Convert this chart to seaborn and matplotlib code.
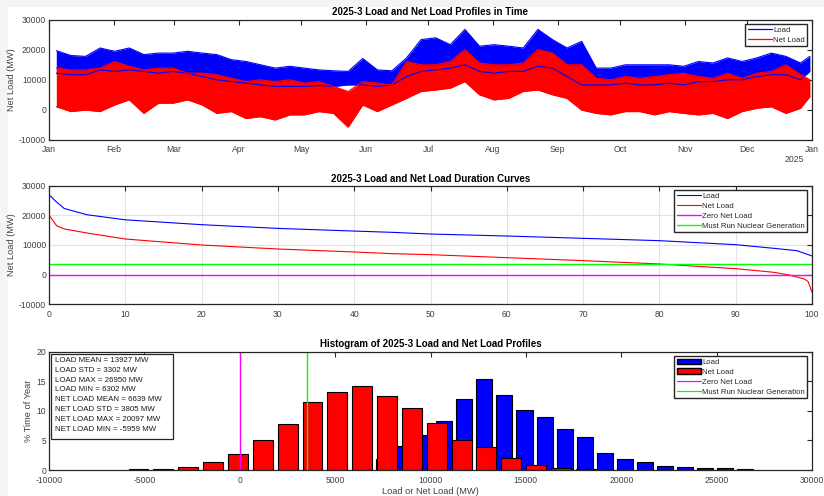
import numpy as np
import pandas as pd
import matplotlib
matplotlib.use("Agg")
import matplotlib.pyplot as plt
from matplotlib.patches import Patch, Rectangle
from matplotlib.lines import Line2D
import seaborn as sns

# ---------------- data ----------------
# Panel 1: weekly envelopes (MW) read from the time profile, week mid-points (day of year)
week_days = [3.5 + 7 * k for k in range(52)] + [365.0]
load_upper = [19600, 18000, 17700, 20500, 19400, 20500, 18300, 18800, 18800, 19400,
              18800, 18300, 16600, 16000, 14900, 13800, 14400, 13800, 13200, 12900,
              12700, 17000, 13200, 12900, 17200, 23300, 23900, 21600, 26700, 21100,
              21600, 21100, 20500, 26700, 23300, 20500, 22700, 13800, 13800, 14900,
              14900, 14900, 14900, 14400, 16000, 15500, 17200, 16000, 17200, 18800,
              17700, 15500, 17700]
load_lower = [12100, 11600, 11600, 13200, 12700, 13200, 12700, 12100, 12700, 12100,
              11000, 9900, 9300, 8800, 8200, 7700, 7700, 7700, 8000, 7700,
              8200, 8200, 7700, 8200, 11000, 12700, 13200, 13800, 14900, 12700,
              12100, 12700, 12700, 14400, 13800, 11000, 8200, 8200, 8200, 8800,
              8200, 8200, 8800, 8200, 9300, 9300, 9900, 9900, 11000, 11600,
              11600, 9900, 12700]
net_upper = [13800, 13200, 13200, 13800, 16000, 14400, 13200, 13800, 13800, 12100,
             12100, 11600, 10400, 9300, 9900, 9300, 9900, 8800, 9300, 7700,
             6000, 9300, 8800, 8200, 16000, 14900, 14900, 16000, 20000, 15500,
             14900, 14900, 15500, 20000, 18800, 14900, 14900, 10400, 9900, 11000,
             10400, 11000, 11600, 12100, 11000, 10400, 12100, 10400, 12100, 12700,
             14900, 11600, 9900]
net_lower = [900, -700, -200, -700, 1500, 3200, -1300, 2100, 2100, 3200,
             1500, -1300, -700, -3000, -2400, -3500, -1800, -1800, -700, -1300,
             -5900, 1500, -700, 1500, 3700, 6000, 6500, 7100, 9300, 4900,
             3200, 3700, 6000, 6500, 4900, 3700, -200, -1300, -1800, -700,
             -700, -1800, -700, -1300, -1800, -1300, -3000, -700, 400, 900,
             -1300, 400, 4300]
month_starts = [0, 31, 60, 91, 121, 152, 182, 213, 244, 274, 305, 335, 366]
month_labels = ["Jan", "Feb", "Mar", "Apr", "May", "Jun", "Jul", "Aug", "Sep",
                "Oct", "Nov", "Dec", "Jan"]

# Panel 2: duration curves (percent of time exceeded, MW)
dur_pct_load = [0, 1, 2, 5, 10, 20, 30, 40, 45, 50, 60, 70, 80, 90, 95, 98, 100]
dur_load = [26950, 24500, 22300, 20200, 18500, 16850, 15600, 14700, 14270, 13700,
            13030, 12250, 11460, 10110, 8880, 8090, 6302]
dur_pct_net = [0, 0.5, 1, 2, 5, 10, 20, 30, 40, 45, 50, 60, 70, 80, 90, 95, 97, 99, 99.5, 100]
dur_net = [20097, 18300, 16500, 15400, 14040, 12020, 10000, 8650, 7640, 7080, 6740,
           5730, 4720, 3600, 2020, 790, -110, -1460, -2360, -5959]
must_run = 3500

# Panel 3: histograms (% of year per bin)
load_centers = [6507 + 1052.6 * k for k in range(20)]
load_pct = [0.2, 1.9, 4.1, 5.9, 8.2, 12.0, 15.3, 12.7, 10.2, 8.9,
            7.0, 5.6, 2.9, 1.8, 1.3, 0.7, 0.55, 0.4, 0.28, 0.11]
net_centers = [-5307 + 1302.8 * k for k in range(20)]
net_pct = [0.1, 0.15, 0.5, 1.4, 2.7, 5.07, 7.77, 11.4, 13.2, 14.2,
           12.5, 10.4, 7.9, 5.07, 3.8, 2.1, 0.9, 0.28, 0.17, 0.06]
stats_text = ["LOAD MEAN = 13927 MW", "LOAD STD = 3302 MW", "LOAD MAX = 26950 MW",
              "LOAD MIN = 6302 MW", "NET LOAD MEAN = 6639 MW", "NET LOAD STD = 3805 MW",
              "NET LOAD MAX = 20097 MW", "NET LOAD MIN = -5959 MW"]

# ---------------- style ----------------
sns.set_theme(style="white")
plt.rcParams['font.family'] = ['Liberation Sans', 'DejaVu Sans']
AX_C = "#262626"
TICK_C = "#404040"
plt.rcParams.update({
    "axes.unicode_minus": False,
    "axes.edgecolor": AX_C, "axes.linewidth": 0.9,
    "xtick.color": AX_C, "ytick.color": AX_C,
    "xtick.labelcolor": TICK_C, "ytick.labelcolor": TICK_C,
    "xtick.direction": "in", "ytick.direction": "in",
    "xtick.major.size": 3.5, "ytick.major.size": 3.5,
    "xtick.major.width": 0.8, "ytick.major.width": 0.8,
    "xtick.top": True, "ytick.right": True,
    "xtick.labelsize": 6.2, "ytick.labelsize": 6.2,
    "axes.labelsize": 6.7, "axes.labelcolor": TICK_C,
})

fig = plt.figure(figsize=(8.24, 4.96), dpi=100, facecolor="white")
fig.patches.append(Rectangle((0, 0), 8 / 824, 1, transform=fig.transFigure,
                             facecolor="#f4f4f4", edgecolor="none", zorder=-5))
fig.patches.append(Rectangle((0, 1 - 7 / 496), 1, 7 / 496, transform=fig.transFigure,
                             facecolor="#f4f4f4", edgecolor="none", zorder=-5))

L, W = 49 / 824, 763 / 824
ax1 = fig.add_axes([L, 1 - 139.5 / 496, W, 120 / 496])
ax2 = fig.add_axes([L, 1 - 304.3 / 496, W, 118.6 / 496])
ax3 = fig.add_axes([L, 1 - 470 / 496, W, 118.5 / 496])

title_kw = dict(fontsize=7, fontweight="bold", color="black", pad=3)
leg_kw = dict(fontsize=5.6, frameon=True, fancybox=False, edgecolor=AX_C,
              borderpad=0.3, labelspacing=0.32, handlelength=3.2, handletextpad=0.1,
              borderaxespad=0.6, framealpha=1)

# ---------------- panel 1 ----------------
df1 = pd.DataFrame({"day": week_days, "lu": load_upper, "ll": load_lower,
                    "nu": net_upper, "nl": net_lower})
ax1.fill_between(df1["day"], df1["ll"], df1["lu"], color="#0000ff", lw=0)
ax1.fill_between(df1["day"], df1["nl"], df1["nu"], color="#ff0000", lw=0)
for col, c in [("lu", "#0000ff"), ("ll", "#0000ff"), ("nu", "#ff0000"), ("nl", "#ff0000")]:
    sns.lineplot(data=df1, x="day", y=col, ax=ax1, color=c, lw=0.8, legend=False)
ax1.set_xlim(0, 366)
ax1.set_ylim(-10000, 30000)
ax1.set_xticks(month_starts)
ax1.set_xticklabels(month_labels)
ax1.set_yticks([-10000, 0, 10000, 20000, 30000])
ax1.set_xlabel("")
ax1.set_ylabel("Net Load (MW)")
ax1.set_title("2025-3 Load and Net Load Profiles in Time", **title_kw)
ax1.text(0.99, -0.125, "2025", transform=ax1.transAxes, ha="right", va="top",
         fontsize=6.2, color=TICK_C)
ax1.legend(handles=[Line2D([], [], color="#0000ff", lw=0.9, label="Load"),
                    Line2D([], [], color="#ff0000", lw=0.9, label="Net Load")],
           loc="upper right", **leg_kw)

# ---------------- panel 2 ----------------
df_l = pd.DataFrame({"pct": dur_pct_load, "mw": dur_load})
df_n = pd.DataFrame({"pct": dur_pct_net, "mw": dur_net})
ax2.grid(True, color="#e3e3e3", lw=0.8)
ax2.set_axisbelow(True)
sns.lineplot(data=df_l, x="pct", y="mw", ax=ax2, color="#0000ff", lw=0.8, label="Load")
sns.lineplot(data=df_n, x="pct", y="mw", ax=ax2, color="#ff0000", lw=0.8, label="Net Load")
ax2.axhline(0, color="#ff00ff", lw=1.0, label="Zero Net Load")
ax2.axhline(must_run, color="#00ff00", lw=1.0, label="Must Run Nuclear Generation")
ax2.set_xlim(0, 100)
ax2.set_ylim(-10000, 30000)
ax2.set_xticks(range(0, 101, 10))
ax2.set_yticks([-10000, 0, 10000, 20000, 30000])
ax2.set_xlabel("")
ax2.set_ylabel("Net Load (MW)")
ax2.set_title("2025-3 Load and Net Load Duration Curves", **title_kw)
ax2.legend(loc="upper right", **leg_kw)

# ---------------- panel 3 ----------------
ax3.bar(load_centers, load_pct, width=0.8 * 1052.6, color="#0000ff",
        edgecolor="black", lw=0.8, zorder=2)
ax3.bar(net_centers, net_pct, width=0.8 * 1302.8, color="#ff0000",
        edgecolor="black", lw=0.8, zorder=3)
ax3.axvline(0, color="#ff00ff", lw=1.0, zorder=4)
ax3.axvline(must_run, color="#00ff00", lw=1.0, zorder=4)
ax3.set_xlim(-10000, 30000)
ax3.set_ylim(0, 20)
ax3.set_xticks(range(-10000, 30001, 5000))
ax3.set_yticks([0, 5, 10, 15, 20])
ax3.set_xlabel("Load or Net Load (MW)", labelpad=1.5)
ax3.set_ylabel("% Time of Year")
ax3.set_title("Histogram of 2025-3 Load and Net Load Profiles", **title_kw)
# statistics annotation box
box_x0, box_x1 = 2 / 763, 124 / 763
box_y0, box_y1 = 31 / 118.5, 116 / 118.5
ax3.add_patch(Rectangle((box_x0, box_y0), box_x1 - box_x0, box_y1 - box_y0,
                        transform=ax3.transAxes, facecolor="white", edgecolor=AX_C,
                        lw=0.9, zorder=6))
for i, line in enumerate(stats_text):
    ax3.text(6 / 763, (109.5 - 9.8 * i) / 118.5, line, transform=ax3.transAxes,
             ha="left", va="center", fontsize=5.7, color="#1a1a1a", zorder=7)
ax3.legend(handles=[Patch(facecolor="#0000ff", edgecolor="black", label="Load"),
                    Patch(facecolor="#ff0000", edgecolor="black", label="Net Load"),
                    Line2D([], [], color="#ff00ff", lw=0.9, label="Zero Net Load"),
                    Line2D([], [], color="#00ff00", lw=0.9, label="Must Run Nuclear Generation")],
           loc="upper right", **leg_kw)

for ax in (ax1, ax2, ax3):
    ax.tick_params(axis="y", pad=2)
    ax.tick_params(axis="x", pad=4)
    for s in ax.spines.values():
        s.set_zorder(10)
ax1.yaxis.set_label_coords(-33 / 763, 0.5)
ax2.yaxis.set_label_coords(-33 / 763, 0.5)
ax3.yaxis.set_label_coords(-16 / 763, 0.5)

fig.savefig("out.png", dpi=100, facecolor="white")
